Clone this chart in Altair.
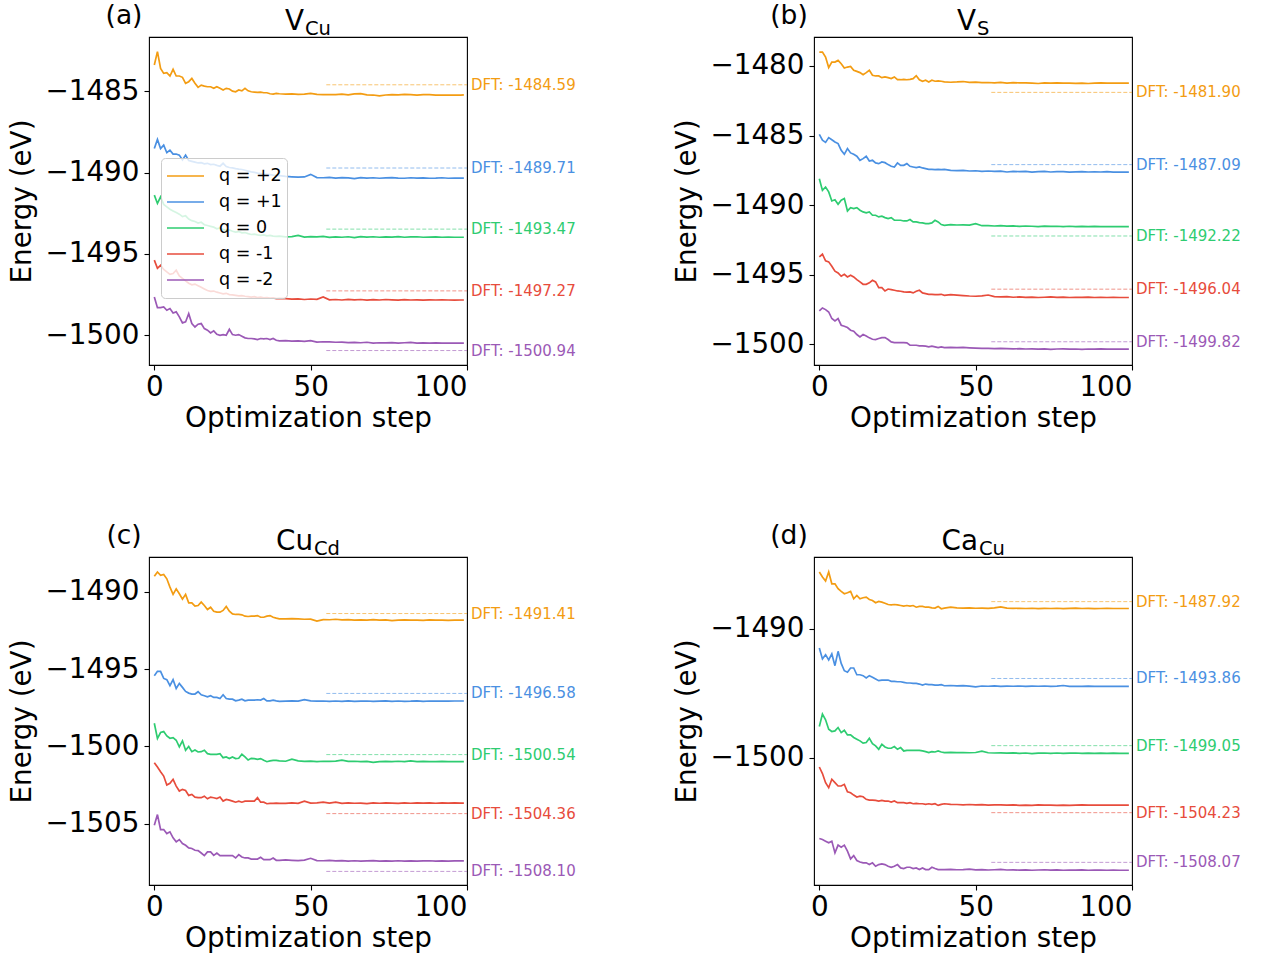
import altair as alt
import pandas as pd

# ---------------- data ----------------
STEPS = list(range(0, 41)) + list(range(42, 100, 2)) + [99]
CHARGES = ["q = +2", "q = +1", "q = 0", "q = -1", "q = -2"]
COLORS = ["#f39c12", "#4a90e2", "#2ecc71", "#e74c3c", "#9b59b6"]
DFT_SPAN = [55, 100]
X_LIMITS = [-1.7, 100]
X_TICKS = [0, 50, 100]

# (a) V_Cu
a_q2 = [-1483.37,-1482.55,-1483.58,-1483.89,-1483.85,-1484.05,-1483.64,-1484.05,-1484.05,-1484.13,
        -1484.50,-1484.40,-1484.20,-1484.50,-1484.75,-1484.61,-1484.67,-1484.71,-1484.71,-1484.81,
        -1484.71,-1484.81,-1484.91,-1484.81,-1484.85,-1484.98,-1485.02,-1484.91,-1484.96,-1484.81,
        -1484.96,-1485.02,-1485.04,-1485.06,-1485.04,-1485.08,-1485.08,-1485.14,-1485.16,-1485.12,
        -1485.14,-1485.16,-1485.15,-1485.18,-1485.17,-1485.12,-1485.18,-1485.20,-1485.19,-1485.20,
        -1485.17,-1485.21,-1485.15,-1485.14,-1485.21,-1485.22,-1485.27,-1485.22,-1485.20,-1485.21,
        -1485.18,-1485.20,-1485.22,-1485.20,-1485.19,-1485.23,-1485.22,-1485.23,-1485.22,-1485.23,
        -1485.21]
a_q1 = [-1488.51,-1487.95,-1488.51,-1488.30,-1488.77,-1488.61,-1488.85,-1488.85,-1488.92,-1489.22,
        -1488.92,-1489.25,-1489.30,-1489.35,-1489.40,-1489.38,-1489.45,-1489.42,-1489.50,-1489.48,
        -1489.55,-1489.60,-1489.42,-1489.62,-1489.68,-1489.70,-1489.75,-1489.78,-1489.80,-1489.85,
        -1489.90,-1489.95,-1489.98,-1490.02,-1490.05,-1490.08,-1490.10,-1490.12,-1490.15,-1490.16,
        -1490.18,-1490.23,-1490.25,-1490.27,-1490.26,-1490.10,-1490.30,-1490.31,-1490.29,-1490.33,
        -1490.30,-1490.32,-1490.36,-1490.30,-1490.33,-1490.31,-1490.34,-1490.32,-1490.30,-1490.33,
        -1490.34,-1490.31,-1490.33,-1490.32,-1490.34,-1490.33,-1490.31,-1490.34,-1490.33,-1490.33,
        -1490.33]
a_0 = [-1491.38,-1491.89,-1491.48,-1491.95,-1492.10,-1492.25,-1492.35,-1492.45,-1492.55,-1492.70,
       -1492.65,-1492.85,-1492.95,-1493.00,-1493.10,-1493.05,-1493.20,-1493.25,-1493.30,-1493.35,
       -1493.45,-1493.40,-1493.50,-1493.55,-1493.52,-1493.60,-1493.65,-1493.62,-1493.70,-1493.68,
       -1493.75,-1493.80,-1493.78,-1493.82,-1493.85,-1493.83,-1493.88,-1493.86,-1493.90,-1493.92,
       -1493.90,-1493.95,-1493.93,-1493.86,-1493.96,-1493.93,-1493.95,-1493.92,-1493.98,-1493.95,
       -1493.97,-1493.94,-1493.99,-1493.93,-1493.96,-1493.94,-1493.97,-1493.95,-1493.96,-1493.93,
       -1493.97,-1493.95,-1493.94,-1493.97,-1493.96,-1493.95,-1493.97,-1493.96,-1493.97,-1493.97,
       -1493.97]
a_m1 = [-1495.38,-1495.88,-1495.70,-1495.95,-1496.10,-1496.25,-1496.20,-1496.00,-1496.35,-1496.50,
        -1496.65,-1496.80,-1496.90,-1496.85,-1496.95,-1497.05,-1497.15,-1497.25,-1497.30,-1497.28,
        -1497.35,-1497.40,-1497.45,-1497.42,-1497.50,-1497.52,-1497.55,-1497.58,-1497.56,-1497.60,
        -1497.62,-1497.65,-1497.63,-1497.68,-1497.66,-1497.70,-1497.68,-1497.72,-1497.70,-1497.74,
        -1497.73,-1497.75,-1497.78,-1497.76,-1497.80,-1497.77,-1497.79,-1497.64,-1497.82,-1497.80,
        -1497.83,-1497.79,-1497.82,-1497.80,-1497.84,-1497.81,-1497.83,-1497.80,-1497.82,-1497.84,
        -1497.81,-1497.83,-1497.82,-1497.84,-1497.82,-1497.83,-1497.82,-1497.83,-1497.84,-1497.83,
        -1497.83]
a_m2 = [-1497.64,-1498.30,-1498.30,-1498.26,-1498.46,-1498.36,-1498.63,-1498.56,-1498.87,-1499.24,
        -1499.18,-1498.67,-1499.28,-1499.49,-1499.32,-1499.28,-1499.59,-1499.69,-1499.86,-1499.73,
        -1499.94,-1500.00,-1499.96,-1500.00,-1499.63,-1499.96,-1500.00,-1499.96,-1500.06,-1500.16,
        -1500.20,-1500.20,-1500.22,-1500.27,-1500.20,-1500.22,-1500.20,-1500.27,-1500.20,-1500.31,
        -1500.35,-1500.33,-1500.36,-1500.34,-1500.38,-1500.33,-1500.42,-1500.40,-1500.41,-1500.43,
        -1500.42,-1500.45,-1500.44,-1500.46,-1500.43,-1500.48,-1500.46,-1500.47,-1500.45,-1500.48,
        -1500.46,-1500.44,-1500.48,-1500.47,-1500.49,-1500.47,-1500.48,-1500.49,-1500.48,-1500.49,
        -1500.49]
DFT_A = [-1484.59, -1489.71, -1493.47, -1497.27, -1500.94]
YLIM_A = [-1501.83, -1481.65]
YTICKS_A = [-1500, -1495, -1490, -1485]

# (b) V_S
b_q2 = [-1479.00,-1479.00,-1479.36,-1480.12,-1479.72,-1479.72,-1479.60,-1479.84,-1480.15,-1480.08,
        -1480.03,-1480.31,-1480.39,-1480.48,-1480.63,-1480.48,-1480.31,-1480.67,-1480.72,-1480.72,
        -1480.84,-1480.79,-1480.84,-1480.91,-1480.79,-1480.99,-1480.99,-1480.96,-1480.99,-1480.96,
        -1480.91,-1480.70,-1480.99,-1481.10,-1481.03,-1481.15,-1481.03,-1481.10,-1481.08,-1481.10,
        -1481.15,-1481.17,-1481.15,-1481.12,-1481.18,-1481.16,-1481.20,-1481.19,-1481.22,-1481.18,
        -1481.23,-1481.20,-1481.22,-1481.21,-1481.23,-1481.26,-1481.22,-1481.24,-1481.21,-1481.24,
        -1481.23,-1481.25,-1481.23,-1481.26,-1481.24,-1481.22,-1481.24,-1481.23,-1481.24,-1481.24,
        -1481.24]
b_q1 = [-1484.91,-1485.34,-1485.49,-1485.15,-1485.30,-1485.46,-1485.58,-1486.06,-1486.35,-1485.94,
        -1486.25,-1486.35,-1486.49,-1486.78,-1486.66,-1486.49,-1486.83,-1486.78,-1486.97,-1487.02,
        -1486.90,-1486.95,-1487.09,-1487.21,-1487.26,-1486.97,-1487.14,-1487.14,-1487.02,-1487.21,
        -1487.26,-1487.31,-1487.26,-1487.33,-1487.38,-1487.43,-1487.43,-1487.45,-1487.43,-1487.45,
        -1487.43,-1487.50,-1487.52,-1487.50,-1487.55,-1487.53,-1487.57,-1487.55,-1487.58,-1487.56,
        -1487.62,-1487.57,-1487.60,-1487.58,-1487.63,-1487.60,-1487.58,-1487.62,-1487.60,-1487.59,
        -1487.63,-1487.61,-1487.60,-1487.62,-1487.61,-1487.62,-1487.60,-1487.63,-1487.62,-1487.63,
        -1487.63]
b_0 = [-1488.10,-1488.94,-1488.70,-1489.05,-1489.70,-1489.61,-1489.94,-1489.65,-1489.53,-1490.42,
       -1490.18,-1490.25,-1490.18,-1490.37,-1490.49,-1490.56,-1490.49,-1490.73,-1490.73,-1490.85,
       -1490.80,-1490.90,-1490.97,-1490.90,-1491.09,-1491.09,-1491.09,-1491.14,-1491.14,-1491.04,
       -1491.21,-1491.21,-1491.26,-1491.28,-1491.33,-1491.33,-1491.28,-1491.09,-1491.21,-1491.40,
       -1491.45,-1491.40,-1491.43,-1491.42,-1491.44,-1491.33,-1491.48,-1491.47,-1491.50,-1491.48,
       -1491.51,-1491.49,-1491.53,-1491.50,-1491.52,-1491.55,-1491.51,-1491.53,-1491.52,-1491.54,
       -1491.52,-1491.55,-1491.53,-1491.54,-1491.53,-1491.55,-1491.54,-1491.54,-1491.55,-1491.54,
       -1491.54]
b_m1 = [-1493.72,-1493.53,-1494.01,-1494.08,-1494.40,-1494.75,-1494.87,-1495.11,-1494.97,-1495.16,
        -1495.04,-1495.16,-1495.35,-1495.52,-1495.69,-1495.69,-1495.59,-1495.40,-1495.52,-1495.93,
        -1495.93,-1496.17,-1496.03,-1496.07,-1496.12,-1496.17,-1496.19,-1496.24,-1496.26,-1496.24,
        -1496.31,-1496.19,-1496.12,-1496.31,-1496.36,-1496.41,-1496.41,-1496.43,-1496.43,-1496.41,
        -1496.48,-1496.44,-1496.47,-1496.50,-1496.53,-1496.55,-1496.52,-1496.46,-1496.58,-1496.60,
        -1496.58,-1496.62,-1496.60,-1496.63,-1496.61,-1496.64,-1496.62,-1496.60,-1496.63,-1496.61,
        -1496.64,-1496.62,-1496.63,-1496.61,-1496.64,-1496.63,-1496.64,-1496.62,-1496.64,-1496.64,
        -1496.64]
b_m2 = [-1497.60,-1497.39,-1497.51,-1497.68,-1498.15,-1498.32,-1498.15,-1498.63,-1498.70,-1498.80,
        -1498.99,-1499.06,-1499.30,-1499.47,-1499.30,-1499.40,-1499.54,-1499.64,-1499.66,-1499.59,
        -1499.52,-1499.52,-1499.66,-1499.83,-1499.88,-1499.88,-1499.88,-1499.88,-1499.90,-1500.07,
        -1500.07,-1500.07,-1500.12,-1500.12,-1500.14,-1500.19,-1500.14,-1500.19,-1500.24,-1500.19,
        -1500.24,-1500.22,-1500.24,-1500.23,-1500.26,-1500.28,-1500.30,-1500.29,-1500.32,-1500.29,
        -1500.31,-1500.33,-1500.32,-1500.34,-1500.33,-1500.35,-1500.33,-1500.36,-1500.34,-1500.33,
        -1500.35,-1500.34,-1500.36,-1500.34,-1500.35,-1500.33,-1500.35,-1500.34,-1500.35,-1500.35,
        -1500.35]
DFT_B = [-1481.90, -1487.09, -1492.22, -1496.04, -1499.82]
YLIM_B = [-1501.49, -1477.92]
YTICKS_B = [-1500, -1495, -1490, -1485, -1480]

# (c) Cu_Cd
c_q2 = [-1489.00,-1488.72,-1488.94,-1488.88,-1489.16,-1489.70,-1490.17,-1489.81,-1490.13,-1490.48,
        -1490.17,-1490.72,-1490.72,-1490.93,-1490.89,-1490.67,-1490.89,-1491.15,-1491.00,-1491.26,
        -1491.32,-1491.32,-1491.21,-1490.95,-1491.26,-1491.43,-1491.47,-1491.47,-1491.49,-1491.58,
        -1491.60,-1491.58,-1491.58,-1491.54,-1491.65,-1491.65,-1491.58,-1491.54,-1491.65,-1491.71,
        -1491.75,-1491.76,-1491.74,-1491.76,-1491.78,-1491.77,-1491.90,-1491.80,-1491.81,-1491.78,
        -1491.82,-1491.80,-1491.84,-1491.82,-1491.83,-1491.81,-1491.84,-1491.82,-1491.87,-1491.83,
        -1491.82,-1491.84,-1491.83,-1491.85,-1491.82,-1491.84,-1491.83,-1491.85,-1491.84,-1491.84,
        -1491.84]
c_q1 = [-1495.43,-1495.15,-1495.15,-1495.61,-1495.69,-1496.08,-1495.69,-1496.26,-1495.93,-1496.19,
        -1496.45,-1496.56,-1496.62,-1496.62,-1496.47,-1496.67,-1496.73,-1496.80,-1496.73,-1496.84,
        -1496.84,-1496.91,-1496.67,-1496.91,-1496.95,-1496.95,-1497.06,-1497.01,-1496.95,-1497.06,
        -1497.01,-1497.01,-1497.01,-1496.99,-1497.01,-1496.91,-1497.06,-1497.06,-1497.01,-1497.06,
        -1497.10,-1497.08,-1497.06,-1497.08,-1496.98,-1497.06,-1497.08,-1497.07,-1497.10,-1497.07,
        -1497.09,-1497.06,-1497.10,-1497.08,-1497.07,-1497.10,-1497.08,-1497.06,-1497.09,-1497.07,
        -1497.09,-1497.08,-1497.06,-1497.09,-1497.07,-1497.08,-1497.07,-1497.08,-1497.07,-1497.07,
        -1497.07]
c_0 = [-1498.51,-1499.50,-1499.11,-1499.05,-1499.33,-1499.48,-1499.44,-1499.61,-1500.04,-1499.65,
       -1500.26,-1500.02,-1500.35,-1500.24,-1500.37,-1500.35,-1500.26,-1500.48,-1500.52,-1500.52,
       -1500.52,-1500.48,-1500.74,-1500.69,-1500.80,-1500.69,-1500.80,-1500.78,-1500.52,-1500.69,
       -1500.89,-1500.78,-1500.80,-1500.85,-1500.80,-1500.91,-1501.00,-1500.95,-1500.91,-1500.91,
       -1500.95,-1500.97,-1500.84,-1500.95,-1500.98,-1500.96,-1500.99,-1500.97,-1500.98,-1500.96,
       -1500.90,-1500.98,-1500.97,-1501.00,-1500.98,-1501.04,-1501.00,-1500.98,-1501.00,-1500.97,
       -1500.99,-1500.94,-1500.99,-1500.98,-1501.00,-1500.99,-1500.98,-1501.00,-1500.99,-1500.99,
       -1500.99]
c_m1 = [-1501.06,-1501.34,-1501.65,-1501.93,-1502.51,-1502.40,-1502.14,-1502.58,-1502.90,-1502.79,
        -1502.86,-1503.18,-1503.12,-1503.29,-1503.33,-1503.33,-1503.23,-1503.40,-1503.29,-1503.33,
        -1503.38,-1503.29,-1503.55,-1503.44,-1503.49,-1503.55,-1503.62,-1503.55,-1503.62,-1503.55,
        -1503.55,-1503.55,-1503.55,-1503.33,-1503.62,-1503.62,-1503.72,-1503.70,-1503.70,-1503.68,
        -1503.70,-1503.70,-1503.67,-1503.69,-1503.55,-1503.68,-1503.66,-1503.62,-1503.68,-1503.62,
        -1503.70,-1503.67,-1503.69,-1503.68,-1503.71,-1503.67,-1503.69,-1503.66,-1503.68,-1503.70,
        -1503.67,-1503.69,-1503.66,-1503.68,-1503.67,-1503.69,-1503.67,-1503.68,-1503.67,-1503.68,
        -1503.68]
c_m2 = [-1505.11,-1504.42,-1505.39,-1505.39,-1505.65,-1505.54,-1505.93,-1506.19,-1506.04,-1506.30,
        -1506.41,-1506.58,-1506.62,-1506.73,-1506.75,-1506.91,-1507.08,-1506.84,-1506.84,-1507.06,
        -1506.91,-1507.08,-1507.08,-1507.08,-1507.08,-1507.08,-1507.23,-1507.01,-1507.17,-1507.23,
        -1507.23,-1507.30,-1507.30,-1507.30,-1507.19,-1507.34,-1507.34,-1507.34,-1507.23,-1507.38,
        -1507.38,-1507.36,-1507.38,-1507.40,-1507.37,-1507.25,-1507.40,-1507.41,-1507.39,-1507.42,
        -1507.40,-1507.43,-1507.41,-1507.44,-1507.42,-1507.40,-1507.43,-1507.42,-1507.44,-1507.41,
        -1507.43,-1507.42,-1507.44,-1507.42,-1507.41,-1507.43,-1507.42,-1507.43,-1507.42,-1507.42,
        -1507.42]
DFT_C = [-1491.41, -1496.58, -1500.54, -1504.36, -1508.10]
YLIM_C = [-1508.98, -1487.75]
YTICKS_C = [-1505, -1500, -1495, -1490]

# (d) Ca_Cu
d_q2 = [-1485.63,-1486.02,-1486.33,-1485.63,-1486.54,-1486.54,-1486.92,-1487.13,-1487.31,-1487.23,
        -1487.13,-1487.70,-1487.44,-1487.70,-1487.62,-1487.57,-1487.75,-1487.83,-1488.01,-1487.91,
        -1487.96,-1488.04,-1488.14,-1488.17,-1488.14,-1488.17,-1488.22,-1488.27,-1488.22,-1488.27,
        -1488.22,-1488.35,-1488.29,-1488.29,-1488.35,-1488.35,-1488.40,-1488.42,-1488.29,-1488.47,
        -1488.42,-1488.35,-1488.40,-1488.42,-1488.40,-1488.43,-1488.42,-1488.44,-1488.40,-1488.32,
        -1488.42,-1488.44,-1488.43,-1488.45,-1488.43,-1488.46,-1488.44,-1488.45,-1488.43,-1488.46,
        -1488.44,-1488.42,-1488.45,-1488.44,-1488.46,-1488.45,-1488.44,-1488.45,-1488.45,-1488.45,
        -1488.45]
d_q1 = [-1491.50,-1492.35,-1492.02,-1492.43,-1491.96,-1492.87,-1491.76,-1492.69,-1493.26,-1493.38,
        -1493.05,-1493.05,-1493.57,-1493.57,-1493.64,-1493.82,-1493.64,-1493.77,-1493.90,-1494.03,
        -1493.98,-1493.98,-1493.98,-1494.08,-1494.08,-1494.11,-1494.11,-1494.16,-1494.21,-1494.21,
        -1494.24,-1494.24,-1494.29,-1494.37,-1494.29,-1494.34,-1494.34,-1494.37,-1494.37,-1494.34,
        -1494.42,-1494.40,-1494.43,-1494.41,-1494.45,-1494.50,-1494.44,-1494.46,-1494.43,-1494.47,
        -1494.45,-1494.46,-1494.44,-1494.47,-1494.45,-1494.46,-1494.44,-1494.47,-1494.45,-1494.40,
        -1494.47,-1494.46,-1494.47,-1494.45,-1494.47,-1494.46,-1494.47,-1494.46,-1494.47,-1494.47,
        -1494.47]
d_0 = [-1497.57,-1496.61,-1497.05,-1497.78,-1497.96,-1497.91,-1497.65,-1498.04,-1497.86,-1498.22,
       -1498.22,-1498.42,-1498.55,-1498.68,-1498.86,-1498.81,-1498.48,-1498.89,-1499.07,-1499.33,
       -1498.94,-1499.15,-1499.25,-1499.25,-1499.12,-1499.33,-1499.20,-1499.46,-1499.41,-1499.41,
       -1499.41,-1499.41,-1499.41,-1499.46,-1499.51,-1499.59,-1499.51,-1499.54,-1499.46,-1499.54,
       -1499.59,-1499.57,-1499.59,-1499.58,-1499.60,-1499.58,-1499.47,-1499.60,-1499.62,-1499.61,
       -1499.63,-1499.61,-1499.64,-1499.62,-1499.66,-1499.63,-1499.62,-1499.64,-1499.62,-1499.65,
       -1499.63,-1499.62,-1499.64,-1499.63,-1499.65,-1499.63,-1499.64,-1499.63,-1499.64,-1499.64,
       -1499.64]
d_m1 = [-1500.70,-1501.21,-1501.91,-1502.30,-1501.65,-1501.91,-1502.17,-1502.17,-1502.04,-1502.61,
        -1502.69,-1502.87,-1503.02,-1502.95,-1503.00,-1503.20,-1503.26,-1503.26,-1503.28,-1503.33,
        -1503.28,-1503.33,-1503.33,-1503.41,-1503.33,-1503.46,-1503.46,-1503.46,-1503.51,-1503.46,
        -1503.54,-1503.51,-1503.54,-1503.54,-1503.59,-1503.54,-1503.59,-1503.54,-1503.67,-1503.59,
        -1503.54,-1503.59,-1503.60,-1503.62,-1503.60,-1503.63,-1503.61,-1503.64,-1503.62,-1503.63,
        -1503.65,-1503.63,-1503.66,-1503.64,-1503.66,-1503.63,-1503.65,-1503.64,-1503.66,-1503.64,
        -1503.67,-1503.65,-1503.63,-1503.65,-1503.64,-1503.65,-1503.64,-1503.65,-1503.65,-1503.65,
        -1503.65]
d_m2 = [-1506.23,-1506.30,-1506.43,-1506.56,-1506.43,-1507.34,-1506.74,-1506.90,-1506.74,-1507.21,
        -1507.80,-1507.55,-1507.93,-1508.04,-1508.11,-1508.11,-1508.24,-1508.11,-1508.37,-1508.24,
        -1508.19,-1508.24,-1508.37,-1508.45,-1508.37,-1508.24,-1508.50,-1508.55,-1508.45,-1508.45,
        -1508.55,-1508.50,-1508.63,-1508.50,-1508.63,-1508.63,-1508.45,-1508.55,-1508.63,-1508.63,
        -1508.63,-1508.62,-1508.64,-1508.63,-1508.60,-1508.65,-1508.63,-1508.66,-1508.64,-1508.62,
        -1508.66,-1508.65,-1508.67,-1508.65,-1508.68,-1508.66,-1508.64,-1508.67,-1508.65,-1508.68,
        -1508.66,-1508.67,-1508.65,-1508.68,-1508.66,-1508.67,-1508.68,-1508.67,-1508.68,-1508.68,
        -1508.68]
DFT_D = [-1487.92, -1493.86, -1499.05, -1504.23, -1508.07]
YLIM_D = [-1509.82, -1484.47]
YTICKS_D = [-1500, -1490]

PANELS = [
    {"tag": "(a)", "main": "V", "sub": "Cu", "series": [a_q2, a_q1, a_0, a_m1, a_m2],
     "dft": DFT_A, "ylim": YLIM_A, "yticks": YTICKS_A, "legend": True, "title_x": 155},
    {"tag": "(b)", "main": "V", "sub": "S", "series": [b_q2, b_q1, b_0, b_m1, b_m2],
     "dft": DFT_B, "ylim": YLIM_B, "yticks": YTICKS_B, "legend": False, "title_x": 162},
    {"tag": "(c)", "main": "Cu", "sub": "Cd", "series": [c_q2, c_q1, c_0, c_m1, c_m2],
     "dft": DFT_C, "ylim": YLIM_C, "yticks": YTICKS_C, "legend": False, "title_x": 164},
    {"tag": "(d)", "main": "Ca", "sub": "Cu", "series": [d_q2, d_q1, d_0, d_m1, d_m2],
     "dft": DFT_D, "ylim": YLIM_D, "yticks": YTICKS_D, "legend": False, "title_x": 164},
]

W, H = 318, 328
FONT = "DejaVu Sans"
BIG = 27.8


def make_panel(p):
    rows = []
    for charge, vals in zip(CHARGES, p["series"]):
        for s, v in zip(STEPS, vals):
            rows.append({"step": s, "energy": v, "charge": charge})
    line_df = pd.DataFrame(rows)
    dft_df = pd.DataFrame({"charge": CHARGES, "dft": p["dft"],
                           "x0": [DFT_SPAN[0]] * 5, "x1": [DFT_SPAN[1]] * 5})
    dft_df["label"] = ["DFT: %.2f" % v for v in p["dft"]]

    xs = alt.Scale(domain=X_LIMITS, nice=False, zero=False)
    ys = alt.Scale(domain=p["ylim"], nice=False, zero=False)
    cs = alt.Scale(domain=CHARGES, range=COLORS)

    if p["legend"]:
        leg = alt.Legend(title=None, orient="none", legendX=12, legendY=121,
                         symbolType="stroke", symbolSize=1369, symbolStrokeWidth=1.6,
                         labelFontSize=17.5, labelFont=FONT, labelColor="black",
                         fillColor="rgba(255,255,255,0.8)", strokeColor="#cccccc",
                         cornerRadius=4, padding=5, rowPadding=0, clipHeight=26,
                         labelOffset=14)
    else:
        leg = None

    x_enc = alt.X("step:Q", scale=xs,
                  axis=alt.Axis(values=X_TICKS, title="Optimization step", format="d"))
    y_enc = alt.Y("energy:Q", scale=ys,
                  axis=alt.Axis(values=p["yticks"], title="Energy (eV)", format="d"))

    lines = alt.Chart(line_df).mark_line(strokeWidth=1.7, clip=True).encode(
        x=x_enc, y=y_enc,
        color=alt.Color("charge:N", scale=cs, legend=leg),
    )
    rules = alt.Chart(dft_df).mark_rule(strokeDash=[4, 2], strokeWidth=1, opacity=0.6).encode(
        x=alt.X("x0:Q", scale=xs), x2="x1:Q",
        y=alt.Y("dft:Q", scale=ys),
        color=alt.Color("charge:N", scale=cs, legend=None),
    )
    labels = alt.Chart(dft_df).mark_text(align="left", baseline="middle", dx=4,
                                         fontSize=15, font=FONT).encode(
        x=alt.X("x1:Q", scale=xs), y=alt.Y("dft:Q", scale=ys), text="label:N",
        color=alt.Color("charge:N", scale=cs, legend=None),
    )
    one = alt.Data(values=[{"k": 1}])
    t_main = alt.Chart(one).mark_text(text=p["main"], align="right", baseline="alphabetic",
                                      fontSize=BIG, font=FONT, color="black").encode(
        x=alt.value(p["title_x"]), y=alt.value(-7))
    t_sub = alt.Chart(one).mark_text(text=p["sub"], align="left", baseline="alphabetic",
                                     fontSize=19.5, font=FONT, color="black").encode(
        x=alt.value(p["title_x"] + 1), y=alt.value(-2))
    t_tag = alt.Chart(one).mark_text(text=p["tag"], align="center", baseline="alphabetic",
                                     fontSize=26.5, font=FONT, color="black").encode(
        x=alt.value(-25), y=alt.value(-13))
    return alt.layer(lines, rules, labels, t_main, t_sub, t_tag).properties(width=W, height=H)


panels = [make_panel(p) for p in PANELS]

chart = alt.concat(*panels, columns=2, spacing={"row": 192, "column": 347}, bounds="flush").resolve_scale(
    color="independent", x="independent", y="independent"
).resolve_legend(color="independent").properties(
    padding={"left": 8, "top": 2, "right": 0, "bottom": 0}
).configure(font=FONT).configure_view(
    stroke="black", strokeWidth=1.1
).configure_axis(
    domain=False, grid=False, labelFontSize=BIG, titleFontSize=BIG, titleFontWeight="normal",
    labelColor="black", titleColor="black", tickColor="black", tickSize=5, tickWidth=1.1,
    labelFont=FONT, titleFont=FONT
).configure_axisY(labelPadding=5, titlePadding=8).configure_axisX(labelPadding=3, titlePadding=4)

chart.save("out.html", embed_options={"renderer": "svg", "actions": False})
